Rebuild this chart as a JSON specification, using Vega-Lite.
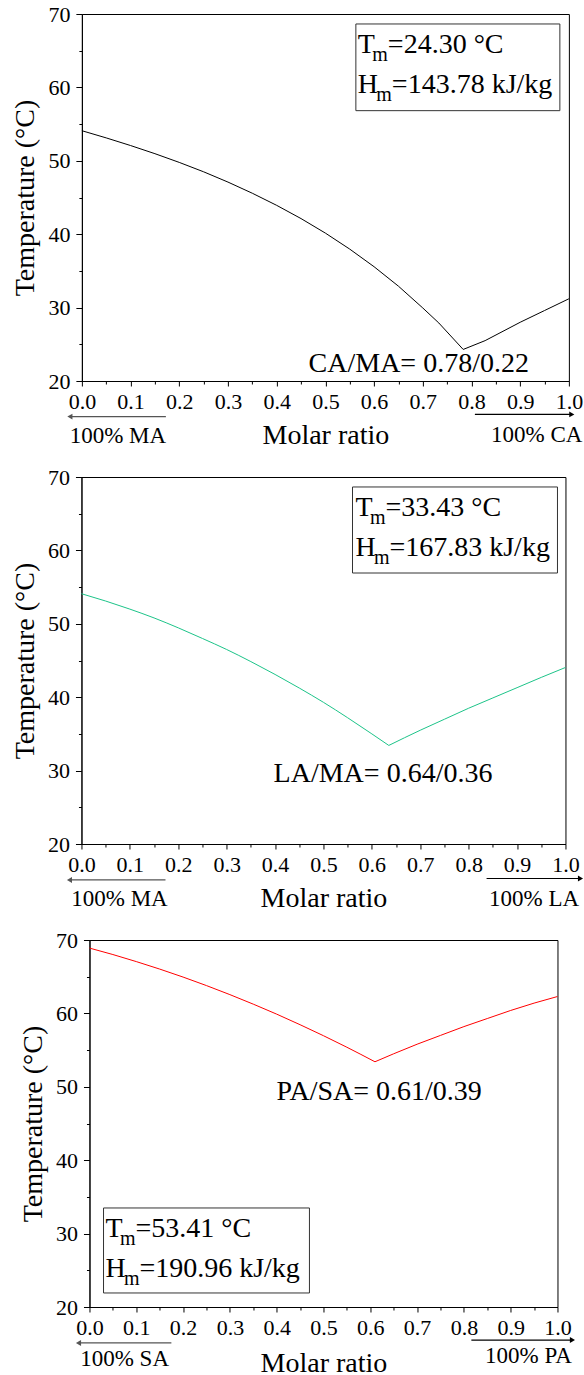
{
  "$schema": "https://vega.github.io/schema/vega-lite/v6.json",
  "padding": {"left": 10, "top": 2, "right": 0, "bottom": 0},
  "columns": 1,
  "center": true,
  "spacing": 15,
  "config": {
    "font": "Liberation Serif",
    "view": {"stroke": "#000", "strokeWidth": 1},
    "axis": {
      "labelFont": "Liberation Serif", "titleFont": "Liberation Serif",
      "labelFontSize": 22, "titleFontSize": 28, "titleFontWeight": "normal",
      "labelColor": "#000", "titleColor": "#000", "domainColor": "#000", "tickColor": "#000",
      "domainWidth": 1, "tickWidth": 1, "grid": false, "labelFlush": false, "labelOverlap": false, "labelBound": false
    },
    "text": {"font": "Liberation Serif", "color": "#000"}
  },
  "concat": [
    {
      "width": 487, "height": 367,
      "encoding": {
        "x": {"field": "x", "type": "quantitative", "scale": {"domain": [0, 1], "nice": false, "zero": false},
          "axis": {"title": "Molar ratio", "labelFont": "Liberation Serif", "labelFontSize": 22, "values": [0,0.05,0.1,0.15,0.2,0.25,0.3,0.35,0.4,0.45,0.5,0.55,0.6,0.65,0.7,0.75,0.8,0.85,0.9,0.95,1],
            "labelExpr": "round(datum.value*20) % 2 === 0 ? format(datum.value, '.1f') : ''",
            "tickSize": {"condition": {"test": "round(datum.value*20) % 2 === 0", "value": 5}, "value": 3},
            "labelPadding": 5, "titlePadding": 9}},
        "y": {"field": "y", "type": "quantitative", "scale": {"domain": [20, 70], "nice": false, "zero": false},
          "axis": {"title": "Temperature (°C)", "labelFont": "Liberation Serif", "labelFontSize": 22, "values": [20,25,30,35,40,45,50,55,60,65,70],
            "labelExpr": "datum.value % 10 === 0 ? datum.label : ''",
            "tickSize": {"condition": {"test": "datum.value % 10 === 0", "value": 6}, "value": 3},
            "labelPadding": 6, "titlePadding": 8}}
      },
      "layer": [
        {
          "data": {"values": [
            {"b": "L", "x": 0, "y": 54.1}, {"b": "L", "x": 0.05, "y": 53.12}, {"b": "L", "x": 0.1, "y": 52.08}, {"b": "L", "x": 0.15, "y": 50.97},
            {"b": "L", "x": 0.2, "y": 49.78}, {"b": "L", "x": 0.25, "y": 48.5}, {"b": "L", "x": 0.3, "y": 47.1}, {"b": "L", "x": 0.35, "y": 45.58},
            {"b": "L", "x": 0.4, "y": 43.93}, {"b": "L", "x": 0.45, "y": 42.13}, {"b": "L", "x": 0.5, "y": 40.15}, {"b": "L", "x": 0.55, "y": 37.97},
            {"b": "L", "x": 0.6, "y": 35.57}, {"b": "L", "x": 0.65, "y": 32.92}, {"b": "L", "x": 0.7, "y": 29.95}, {"b": "L", "x": 0.733, "y": 27.9},
            {"b": "L", "x": 0.783, "y": 24.3},
            {"b": "R", "x": 0.783, "y": 24.3}, {"b": "R", "x": 0.828, "y": 25.5}, {"b": "R", "x": 0.9, "y": 28.0}, {"b": "R", "x": 0.95, "y": 29.6},
            {"b": "R", "x": 1.0, "y": 31.2}
          ]},
          "mark": {"type": "line", "color": "#000", "strokeWidth": 1},
          "encoding": {"detail": {"field": "b"}}
        },
        {
          "data": {"values": [{"x": 0.5626, "x2": 0.9815, "y": 68.64, "y2": 56.83}]},
          "mark": {"type": "rect", "fillOpacity": 0, "stroke": "#333", "strokeWidth": 1},
          "encoding": {"x2": {"field": "x2"}, "y2": {"field": "y2"}}
        },
        {
          "data": {"values": [
            {"x": 0.5667, "y": 64.65, "main": "T", "rest": "=24.30 °C"},
            {"x": 0.5667, "y": 59.2, "main": "H", "rest": "=143.78 kJ/kg"}
          ]},
          "layer": [
            {"mark": {"type": "text", "align": "left", "baseline": "alphabetic", "fontSize": 28}, "encoding": {"text": {"field": "main"}}},
            {"transform": [{"filter": "datum.main === 'T'"}], "mark": {"type": "text", "align": "left", "baseline": "alphabetic", "fontSize": 20, "dx": 14.5, "dy": 8, "text": "m"}},
            {"transform": [{"filter": "datum.main === 'H'"}], "mark": {"type": "text", "align": "left", "baseline": "alphabetic", "fontSize": 20, "dx": 18.5, "dy": 8, "text": "m"}},
            {"transform": [{"filter": "datum.main === 'T'"}], "mark": {"type": "text", "align": "left", "baseline": "alphabetic", "fontSize": 28, "dx": 30}, "encoding": {"text": {"field": "rest"}}},
            {"transform": [{"filter": "datum.main === 'H'"}], "mark": {"type": "text", "align": "left", "baseline": "alphabetic", "fontSize": 28, "dx": 34}, "encoding": {"text": {"field": "rest"}}}
          ]
        },
        {
          "data": {"values": [{"x": 0.4655, "y": 21.27, "label": "CA/MA= 0.78/0.22"}]},
          "mark": {"type": "text", "align": "left", "baseline": "alphabetic", "fontSize": 28},
          "encoding": {"text": {"field": "label"}}
        },
        {
          "data": {"values": [{"x": -0.0246, "x2": 0.1725, "y": 15.15}]},
          "layer": [
            {"mark": {"type": "rule", "color": "#555", "strokeWidth": 1.2}, "encoding": {"x2": {"field": "x2"}}},
            {"mark": {"type": "point", "shape": "triangle-left", "size": 35, "filled": true, "opacity": 1, "color": "#555"}}
          ]
        },
        {
          "data": {"values": [{"x": 1.006, "x2": 0.807, "y": 15.45}]},
          "layer": [
            {"mark": {"type": "rule", "color": "#000", "strokeWidth": 1.2}, "encoding": {"x2": {"field": "x2"}}},
            {"mark": {"type": "point", "shape": "triangle-right", "size": 35, "filled": true, "opacity": 1, "color": "#000"}}
          ]
        },
        {
          "data": {"values": [{"x": 0.0739, "y": 11.55, "label": "100% MA"}, {"x": 0.934, "y": 11.75, "label": "100% CA"}]},
          "mark": {"type": "text", "align": "center", "baseline": "alphabetic", "fontSize": 23},
          "encoding": {"text": {"field": "label"}}
        }
      ]
    },
    {
      "width": 484, "height": 367,
      "encoding": {
        "x": {"field": "x", "type": "quantitative", "scale": {"domain": [0, 1], "nice": false, "zero": false},
          "axis": {"title": "Molar ratio", "labelFont": "Liberation Serif", "labelFontSize": 22, "values": [0,0.05,0.1,0.15,0.2,0.25,0.3,0.35,0.4,0.45,0.5,0.55,0.6,0.65,0.7,0.75,0.8,0.85,0.9,0.95,1],
            "labelExpr": "round(datum.value*20) % 2 === 0 ? format(datum.value, '.1f') : ''",
            "tickSize": {"condition": {"test": "round(datum.value*20) % 2 === 0", "value": 5}, "value": 3},
            "labelPadding": 5, "titlePadding": 9}},
        "y": {"field": "y", "type": "quantitative", "scale": {"domain": [20, 70], "nice": false, "zero": false},
          "axis": {"title": "Temperature (°C)", "labelFont": "Liberation Serif", "labelFontSize": 22, "values": [20,25,30,35,40,45,50,55,60,65,70],
            "labelExpr": "datum.value % 10 === 0 ? datum.label : ''",
            "tickSize": {"condition": {"test": "datum.value % 10 === 0", "value": 6}, "value": 3},
            "labelPadding": 6, "titlePadding": 8}}
      },
      "layer": [
        {
          "data": {"values": [
            {"b": "L", "x": 0, "y": 54.1}, {"b": "L", "x": 0.05, "y": 53.1}, {"b": "L", "x": 0.1, "y": 52.0}, {"b": "L", "x": 0.15, "y": 50.8},
            {"b": "L", "x": 0.2, "y": 49.45}, {"b": "L", "x": 0.25, "y": 48.0}, {"b": "L", "x": 0.3, "y": 46.5}, {"b": "L", "x": 0.35, "y": 44.85},
            {"b": "L", "x": 0.4, "y": 43.1}, {"b": "L", "x": 0.45, "y": 41.25}, {"b": "L", "x": 0.5, "y": 39.3}, {"b": "L", "x": 0.55, "y": 37.2},
            {"b": "L", "x": 0.6, "y": 35.0}, {"b": "L", "x": 0.635, "y": 33.43},
            {"b": "R", "x": 0.635, "y": 33.43}, {"b": "R", "x": 0.7, "y": 35.5}, {"b": "R", "x": 0.75, "y": 37.0},
            {"b": "R", "x": 0.8, "y": 38.5}, {"b": "R", "x": 0.85, "y": 39.9}, {"b": "R", "x": 0.9, "y": 41.3}, {"b": "R", "x": 0.95, "y": 42.7},
            {"b": "R", "x": 1.0, "y": 44.05}
          ]},
          "mark": {"type": "line", "color": "#1dc489", "strokeWidth": 1, "interpolate": "monotone"},
          "encoding": {"detail": {"field": "b"}}
        },
        {
          "data": {"values": [{"x": 0.56, "x2": 0.9835, "y": 68.64, "y2": 56.92}]},
          "mark": {"type": "rect", "fillOpacity": 0, "stroke": "#333", "strokeWidth": 1},
          "encoding": {"x2": {"field": "x2"}, "y2": {"field": "y2"}}
        },
        {
          "data": {"values": [
            {"x": 0.566, "y": 64.65, "main": "T", "rest": "=33.43 °C"},
            {"x": 0.566, "y": 59.2, "main": "H", "rest": "=167.83 kJ/kg"}
          ]},
          "layer": [
            {"mark": {"type": "text", "align": "left", "baseline": "alphabetic", "fontSize": 28}, "encoding": {"text": {"field": "main"}}},
            {"transform": [{"filter": "datum.main === 'T'"}], "mark": {"type": "text", "align": "left", "baseline": "alphabetic", "fontSize": 20, "dx": 14.5, "dy": 8, "text": "m"}},
            {"transform": [{"filter": "datum.main === 'H'"}], "mark": {"type": "text", "align": "left", "baseline": "alphabetic", "fontSize": 20, "dx": 18.5, "dy": 8, "text": "m"}},
            {"transform": [{"filter": "datum.main === 'T'"}], "mark": {"type": "text", "align": "left", "baseline": "alphabetic", "fontSize": 28, "dx": 30}, "encoding": {"text": {"field": "rest"}}},
            {"transform": [{"filter": "datum.main === 'H'"}], "mark": {"type": "text", "align": "left", "baseline": "alphabetic", "fontSize": 28, "dx": 34}, "encoding": {"text": {"field": "rest"}}}
          ]
        },
        {
          "data": {"values": [{"x": 0.397, "y": 28.45, "label": "LA/MA= 0.64/0.36"}]},
          "mark": {"type": "text", "align": "left", "baseline": "alphabetic", "fontSize": 28},
          "encoding": {"text": {"field": "label"}}
        },
        {
          "data": {"values": [{"x": -0.0248, "x2": 0.1736, "y": 15.1}]},
          "layer": [
            {"mark": {"type": "rule", "color": "#555", "strokeWidth": 1.2}, "encoding": {"x2": {"field": "x2"}}},
            {"mark": {"type": "point", "shape": "triangle-left", "size": 35, "filled": true, "opacity": 1, "color": "#555"}}
          ]
        },
        {
          "data": {"values": [{"x": 1.031, "x2": 0.837, "y": 15.3}]},
          "layer": [
            {"mark": {"type": "rule", "color": "#000", "strokeWidth": 1.2}, "encoding": {"x2": {"field": "x2"}}},
            {"mark": {"type": "point", "shape": "triangle-right", "size": 35, "filled": true, "opacity": 1, "color": "#000"}}
          ]
        },
        {
          "data": {"values": [{"x": 0.0785, "y": 11.6, "label": "100% MA"}, {"x": 0.935, "y": 11.6, "label": "100% LA"}]},
          "mark": {"type": "text", "align": "center", "baseline": "alphabetic", "fontSize": 23},
          "encoding": {"text": {"field": "label"}}
        }
      ]
    },
    {
      "width": 468, "height": 367,
      "encoding": {
        "x": {"field": "x", "type": "quantitative", "scale": {"domain": [0, 1], "nice": false, "zero": false},
          "axis": {"title": "Molar ratio", "labelFont": "Liberation Serif", "labelFontSize": 22, "values": [0,0.05,0.1,0.15,0.2,0.25,0.3,0.35,0.4,0.45,0.5,0.55,0.6,0.65,0.7,0.75,0.8,0.85,0.9,0.95,1],
            "labelExpr": "round(datum.value*20) % 2 === 0 ? format(datum.value, '.1f') : ''",
            "tickSize": {"condition": {"test": "round(datum.value*20) % 2 === 0", "value": 5}, "value": 3},
            "labelPadding": 5, "titlePadding": 11}},
        "y": {"field": "y", "type": "quantitative", "scale": {"domain": [20, 70], "nice": false, "zero": false},
          "axis": {"title": "Temperature (°C)", "labelFont": "Liberation Serif", "labelFontSize": 22, "values": [20,25,30,35,40,45,50,55,60,65,70],
            "labelExpr": "datum.value % 10 === 0 ? datum.label : ''",
            "tickSize": {"condition": {"test": "datum.value % 10 === 0", "value": 6}, "value": 3},
            "labelPadding": 6, "titlePadding": 8}}
      },
      "layer": [
        {
          "data": {"values": [
            {"b": "L", "x": 0, "y": 68.9}, {"b": "L", "x": 0.05, "y": 68.02}, {"b": "L", "x": 0.1, "y": 67.06}, {"b": "L", "x": 0.15, "y": 66.04},
            {"b": "L", "x": 0.2, "y": 64.95}, {"b": "L", "x": 0.25, "y": 63.79}, {"b": "L", "x": 0.3, "y": 62.56}, {"b": "L", "x": 0.35, "y": 61.26},
            {"b": "L", "x": 0.4, "y": 59.9}, {"b": "L", "x": 0.45, "y": 58.46}, {"b": "L", "x": 0.5, "y": 56.96}, {"b": "L", "x": 0.55, "y": 55.39},
            {"b": "L", "x": 0.61, "y": 53.41},
            {"b": "R", "x": 0.61, "y": 53.41}, {"b": "R", "x": 0.65, "y": 54.5}, {"b": "R", "x": 0.7, "y": 55.8}, {"b": "R", "x": 0.75, "y": 57.0},
            {"b": "R", "x": 0.8, "y": 58.2}, {"b": "R", "x": 0.85, "y": 59.3}, {"b": "R", "x": 0.9, "y": 60.4}, {"b": "R", "x": 0.95, "y": 61.4},
            {"b": "R", "x": 1.0, "y": 62.3}
          ]},
          "mark": {"type": "line", "color": "#ff0000", "strokeWidth": 1, "interpolate": "monotone"},
          "encoding": {"detail": {"field": "b"}}
        },
        {
          "data": {"values": [{"x": 0.030, "x2": 0.470, "y": 33.49, "y2": 21.91}]},
          "mark": {"type": "rect", "fillOpacity": 0, "stroke": "#333", "strokeWidth": 1},
          "encoding": {"x2": {"field": "x2"}, "y2": {"field": "y2"}}
        },
        {
          "data": {"values": [
            {"x": 0.034, "y": 29.54, "main": "T", "rest": "=53.41 °C"},
            {"x": 0.034, "y": 24.09, "main": "H", "rest": "=190.96 kJ/kg"}
          ]},
          "layer": [
            {"mark": {"type": "text", "align": "left", "baseline": "alphabetic", "fontSize": 28}, "encoding": {"text": {"field": "main"}}},
            {"transform": [{"filter": "datum.main === 'T'"}], "mark": {"type": "text", "align": "left", "baseline": "alphabetic", "fontSize": 20, "dx": 14.5, "dy": 8, "text": "m"}},
            {"transform": [{"filter": "datum.main === 'H'"}], "mark": {"type": "text", "align": "left", "baseline": "alphabetic", "fontSize": 20, "dx": 18.5, "dy": 8, "text": "m"}},
            {"transform": [{"filter": "datum.main === 'T'"}], "mark": {"type": "text", "align": "left", "baseline": "alphabetic", "fontSize": 28, "dx": 30}, "encoding": {"text": {"field": "rest"}}},
            {"transform": [{"filter": "datum.main === 'H'"}], "mark": {"type": "text", "align": "left", "baseline": "alphabetic", "fontSize": 28, "dx": 34}, "encoding": {"text": {"field": "rest"}}}
          ]
        },
        {
          "data": {"values": [{"x": 0.3996, "y": 48.2, "label": "PA/SA= 0.61/0.39"}]},
          "mark": {"type": "text", "align": "left", "baseline": "alphabetic", "fontSize": 28},
          "encoding": {"text": {"field": "label"}}
        },
        {
          "data": {"values": [{"x": -0.0235, "x2": 0.175, "y": 15.1}]},
          "layer": [
            {"mark": {"type": "rule", "color": "#555", "strokeWidth": 1.2}, "encoding": {"x2": {"field": "x2"}}},
            {"mark": {"type": "point", "shape": "triangle-left", "size": 35, "filled": true, "opacity": 1, "color": "#555"}}
          ]
        },
        {
          "data": {"values": [{"x": 1.032, "x2": 0.816, "y": 15.5}]},
          "layer": [
            {"mark": {"type": "rule", "color": "#000", "strokeWidth": 1.2}, "encoding": {"x2": {"field": "x2"}}},
            {"mark": {"type": "point", "shape": "triangle-right", "size": 35, "filled": true, "opacity": 1, "color": "#000"}}
          ]
        },
        {
          "data": {"values": [{"x": 0.075, "y": 11.9, "label": "100% SA"}, {"x": 0.938, "y": 12.4, "label": "100% PA"}]},
          "mark": {"type": "text", "align": "center", "baseline": "alphabetic", "fontSize": 23},
          "encoding": {"text": {"field": "label"}}
        }
      ]
    }
  ]
}
